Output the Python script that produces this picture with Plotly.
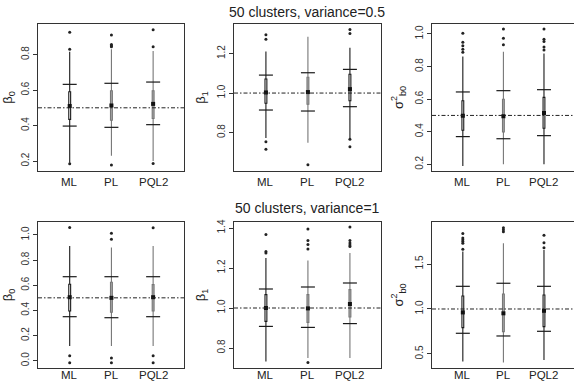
import plotly.graph_objects as go

METHODS = ["ML", "PL", "PQL2"]
TITLES = ["50 clusters, variance=0.5", "50 clusters, variance=1"]
YLABELS = ["β<sub>0</sub>", "β<sub>1</sub>", "σ<sup>2</sup><sub>b0</sub>",
           "β<sub>0</sub>", "β<sub>1</sub>", "σ<sup>2</sup><sub>b0</sub>"]
TRUE_VALUES = [0.5, 1.0, 0.5, 0.5, 1.0, 1.0]
Y_RANGES = [[0.144, 0.972], [0.605, 1.35], [0.159, 1.061],
            [-0.058, 1.103], [0.70, 1.43], [0.344, 1.967]]
Y_TICKS = [[0.2, 0.4, 0.6, 0.8], [0.8, 1.0, 1.2], [0.2, 0.4, 0.6, 0.8, 1.0],
           [0.0, 0.2, 0.4, 0.6, 0.8, 1.0], [0.8, 1.0, 1.2, 1.4], [0.5, 1.0, 1.5]]
Y_TICKTEXT = [["0.2", "0.4", "0.6", "0.8"], ["0.8", "1.0", "1.2"],
              ["0.2", "0.4", "0.6", "0.8", "1.0"],
              ["0.0", "0.2", "0.4", "0.6", "0.8", "1.0"],
              ["0.8", "1.0", "1.2", "1.4"], ["0.5", "1.0", "1.5"]]

# per panel, per method (ML, PL, PQL2)
Q1 = [[0.435, 0.43, 0.44], [0.948, 0.943, 0.961], [0.409, 0.398, 0.421],
      [0.395, 0.385, 0.395], [0.933, 0.928, 0.955], [0.793, 0.748, 0.804]]
MEDIAN = [[0.51, 0.513, 0.522], [1.003, 1.005, 1.02], [0.498, 0.495, 0.515],
          [0.505, 0.5, 0.505], [1.0, 0.998, 1.02], [0.962, 0.952, 0.98]]
Q3 = [[0.59, 0.596, 0.596], [1.071, 1.08, 1.095], [0.59, 0.599, 0.611],
      [0.608, 0.624, 0.605], [1.067, 1.067, 1.092], [1.144, 1.167, 1.156]]
WHISK_LO = [[0.19, 0.23, 0.2], [0.772, 0.748, 0.77], [0.19, 0.2, 0.2],
            [0.117, 0.117, 0.117], [0.733, 0.75, 0.75], [0.415, 0.404, 0.433]]
WHISK_HI = [[0.815, 0.83, 0.82], [1.21, 1.285, 1.23], [0.861, 0.89, 0.88],
            [0.912, 0.9, 0.912], [1.25, 1.237, 1.275], [1.64, 1.73, 1.655]]
MEAN = [[0.51, 0.513, 0.522], [1.003, 1.005, 1.02], [0.498, 0.495, 0.515],
        [0.505, 0.5, 0.505], [1.0, 0.998, 1.02], [0.962, 0.952, 0.98]]
BAR_HI = [[0.632, 0.638, 0.645], [1.091, 1.103, 1.12], [0.644, 0.652, 0.658],
          [0.668, 0.668, 0.668], [1.095, 1.105, 1.125], [1.252, 1.286, 1.252]]
BAR_LO = [[0.397, 0.39, 0.405], [0.914, 0.909, 0.931], [0.37, 0.357, 0.376],
          [0.35, 0.342, 0.35], [0.908, 0.903, 0.922], [0.73, 0.70, 0.752]]
OUTLIERS = [
    [[0.83, 0.925, 0.185], [0.844, 0.85, 0.857, 0.91, 0.178], [0.844, 0.94, 0.186]],
    [[1.273, 1.295, 0.753, 0.715], [0.637], [1.302, 1.322, 0.766, 0.728]],
    [[0.888, 0.906, 0.928, 0.949, 1.004], [0.934, 0.974, 1.03], [0.902, 0.92, 0.953, 0.967, 1.03]],
    [[1.06, 0.04, -0.016], [0.966, 1.013, 0.022, -0.016], [1.058, 0.04, -0.016]],
    [[1.275, 1.283, 1.367], [1.295, 1.317, 1.337, 1.395, 0.728], [1.307, 1.315, 1.325, 1.337, 1.405]],
    [[1.663, 1.73, 1.75, 1.77, 1.79, 1.84], [1.86, 1.88, 1.903], [1.68, 1.737, 1.82]],
]
# box fill per panel/method: True = gray, False = white
GRAY_FILL = [[False, True, True], [False, True, False], [False, True, False],
             [False, True, True], [False, True, True], [False, True, False]]

W, H = 574, 381
X_DOM = [[38 / W, 184 / W], [234 / W, 381 / W], [432 / W, 1.0]]
Y_DOM = [[1 - 171 / H, 1 - 24 / H], [1 - 368 / H, 1 - 222 / H]]
LABEL_OFFSET = [-11 / 147, -6.5 / 146]   # x category labels below each row

FONT = "Liberation Sans, Arial, sans-serif"
fig = go.Figure()
layout = dict(width=W, height=H, margin=dict(l=0, r=0, t=0, b=0),
              paper_bgcolor="white", plot_bgcolor="white", showlegend=False,
              font=dict(family=FONT, color="#222"))

for p in range(6):
    row, col = divmod(p, 3)
    ax = "" if p == 0 else str(p + 1)
    xref, yref = "x" + ax, "y" + ax
    for m, name in enumerate(METHODS):
        gray = GRAY_FILL[p][m]
        lc = "#777777" if gray else "#1a1a1a"
        fc = "#a8a8a8" if gray else "white"
        fig.add_trace(go.Box(
            x=[m], q1=[Q1[p][m]], median=[MEDIAN[p][m]], q3=[Q3[p][m]],
            lowerfence=[WHISK_LO[p][m]], upperfence=[WHISK_HI[p][m]],
            width=0.045, line=dict(color=lc, width=1.1), fillcolor=fc,
            boxpoints=False, whiskerwidth=0, xaxis=xref, yaxis=yref,
            hoverinfo="skip"))
        fig.add_trace(go.Scatter(
            x=[m, m], y=[BAR_HI[p][m], BAR_LO[p][m]], mode="markers",
            marker=dict(symbol="line-ew", size=10, line=dict(color="#1a1a1a", width=1.2)),
            xaxis=xref, yaxis=yref, hoverinfo="skip"))
        fig.add_trace(go.Scatter(
            x=[m], y=[MEAN[p][m]], mode="markers",
            marker=dict(symbol="square", size=4, color="#111"),
            xaxis=xref, yaxis=yref, hoverinfo="skip"))
        fig.add_trace(go.Scatter(
            x=[m] * len(OUTLIERS[p][m]), y=OUTLIERS[p][m], mode="markers",
            marker=dict(symbol="circle", size=3, color="#222"),
            xaxis=xref, yaxis=yref, hoverinfo="skip"))
        fig.add_annotation(text=name, x=m, xref=xref, y=LABEL_OFFSET[row],
                           yref=yref + " domain", xanchor="center", yanchor="middle",
                           showarrow=False, font=dict(size=11.5, family=FONT, color="#222"))
    fig.add_shape(type="line", xref=xref + " domain", yref=yref,
                  x0=0, x1=1, y0=TRUE_VALUES[p], y1=TRUE_VALUES[p],
                  line=dict(color="#222", width=1, dash="4px,2px,1.5px,2px"))
    layout["xaxis" + ax] = dict(
        domain=X_DOM[col], anchor=yref, range=[-0.76, 2.74],
        showticklabels=False, ticks="", showgrid=False,
        zeroline=False, showline=True, mirror=True, linecolor="#333", linewidth=1,
        automargin=False)
    layout["yaxis" + ax] = dict(
        domain=Y_DOM[row], anchor=xref, range=Y_RANGES[p],
        tickvals=Y_TICKS[p], ticktext=Y_TICKTEXT[p], ticks="outside", ticklen=4,
        tickcolor="#333", tickangle=-90, showgrid=False, zeroline=False,
        showline=True, mirror=True, linecolor="#333", linewidth=1,
        tickfont=dict(size=10, family=FONT, color="#333"), automargin=False,
        title=dict(text=YLABELS[p], font=dict(size=13, family=FONT, color="#222"),
                   standoff=7))

fig.update_layout(**layout)
fig.add_annotation(text=TITLES[0], x=307 / W, y=1 - 12 / H, xref="paper", yref="paper",
                   xanchor="center", yanchor="middle",
                   showarrow=False, font=dict(size=14, family=FONT, color="#222"))
fig.add_annotation(text=TITLES[1], x=307 / W, y=1 - 208 / H, xref="paper", yref="paper",
                   xanchor="center", yanchor="middle",
                   showarrow=False, font=dict(size=14, family=FONT, color="#222"))

fig.write_html("out.html", config={"displayModeBar": False},
               post_script="document.body.style.margin='0';document.body.style.overflow='hidden';")
